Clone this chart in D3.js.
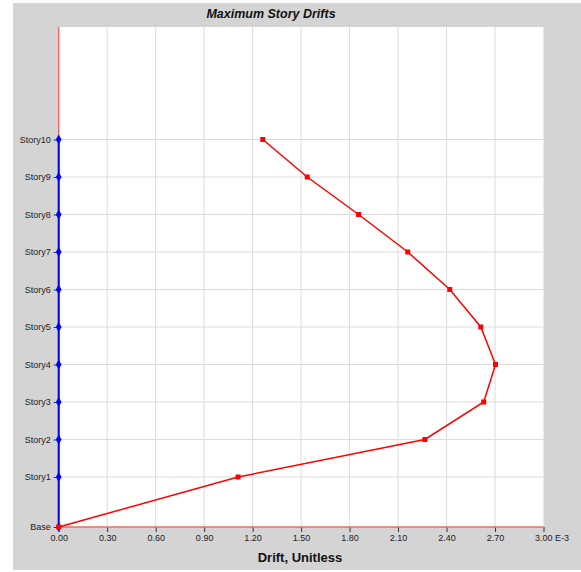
<!DOCTYPE html>
<html>
<head>
<meta charset="UTF-8">
<title>Maximum Story Drifts</title>
<style>
  body { margin: 0; background: #fff; }
  text { font-family: "Liberation Sans", Arial, sans-serif; }
</style>
</head>
<body>
<script src="https://d3js.org/d3.v7.min.js"></script>
<svg width="581" height="572"></svg>
<script>
    // story names and elevations (m), first story is taller
    let stories = ['Base', 'Story1', 'Story2', 'Story3', 'Story4', 'Story5',
                   'Story6', 'Story7', 'Story8', 'Story9', 'Story10'];
    let elevations = [0, 4, 7, 10, 13, 16, 19, 22, 25, 28, 31];

    // drift values (x 1E-3)
    let drift_x = [0, 1.11, 2.266, 2.63, 2.703, 2.612, 2.42, 2.16, 1.856, 1.538, 1.263];
    let drift_y = [0, 0, 0, 0, 0, 0, 0, 0, 0, 0, 0];

    let x_ticks = [0, 0.3, 0.6, 0.9, 1.2, 1.5, 1.8, 2.1, 2.4, 2.7, 3.0];

    let svg = d3.select("svg");

    // grey panel
    svg.append("rect")
        .attr("x", 13).attr("y", 3)
        .attr("width", 568).attr("height", 567)
        .attr("fill", "#d4d4d4");

    let plot_l = 58.7, plot_r = 543.5, plot_t = 27, plot_b = 527;

    let x = d3.scaleLinear().domain([0, 3]).range([plot_l, plot_r]);
    let y = d3.scaleLinear().domain([0, 40]).range([plot_b, plot_t]);

    // plot area
    svg.append("rect")
        .attr("x", plot_l).attr("y", plot_t)
        .attr("width", plot_r - plot_l).attr("height", plot_b - plot_t)
        .attr("fill", "#fff");

    // grid
    let grid = svg.append("g").attr("stroke", "#dcdcdc").attr("stroke-width", 1);
    grid.selectAll("line.v")
        .data(x_ticks.slice(1, -1)).enter()
        .append("line")
        .attr("x1", d => x(d)).attr("x2", d => x(d))
        .attr("y1", plot_t).attr("y2", plot_b);
    grid.selectAll("line.h")
        .data(elevations.slice(1)).enter()
        .append("line")
        .attr("x1", plot_l).attr("x2", plot_r)
        .attr("y1", d => y(d)).attr("y2", d => y(d));

    // axes
    let x_axis = d3.axisBottom(x)
        .tickValues(x_ticks)
        .tickSize(5)
        .tickPadding(3)
        .tickFormat(d => d.toFixed(2));
    let gx = svg.append("g")
        .attr("transform", "translate(0," + plot_b + ")")
        .call(x_axis);
    gx.select(".domain").remove();
    gx.selectAll("line").attr("stroke", "#333");
    gx.selectAll("text")
        .attr("fill", "#222")
        .style("font-size", "9px");
    // last label carries the exponent
    gx.selectAll(".tick").filter(d => d === 3).select("text")
        .attr("text-anchor", "start")
        .attr("x", -9)
        .text("3.00 E-3");

    let y_axis = d3.axisLeft(y)
        .tickValues(elevations)
        .tickSize(5)
        .tickPadding(3)
        .tickFormat((d, i) => stories[i]);
    let gy = svg.append("g")
        .attr("transform", "translate(" + plot_l + ",0)")
        .call(y_axis);
    gy.select(".domain").remove();
    gy.selectAll("line").attr("stroke", "#333");
    gy.selectAll("text")
        .attr("fill", "#222")
        .style("font-size", "9px");

    // red axis lines
    svg.append("line")
        .attr("x1", plot_l).attr("x2", plot_l)
        .attr("y1", plot_t).attr("y2", plot_b)
        .attr("stroke", "#f06a6a").attr("stroke-width", 1.5);
    svg.append("line")
        .attr("x1", plot_l).attr("x2", plot_r)
        .attr("y1", plot_b).attr("y2", plot_b)
        .attr("stroke", "#f06a6a").attr("stroke-width", 1.5);

    let line_y = d3.line()
        .x((d, i) => x(drift_y[i]))
        .y((d, i) => y(elevations[i]));
    let line_x = d3.line()
        .x((d, i) => x(drift_x[i]))
        .y((d, i) => y(elevations[i]));

    // blue series
    svg.append("path")
        .datum(drift_y)
        .attr("d", line_y)
        .attr("fill", "none")
        .attr("stroke", "#0000ff")
        .attr("stroke-width", 2);
    svg.append("g").selectAll("path")
        .data(drift_y).enter()
        .append("path")
        .attr("transform", (d, i) => "translate(" + x(d) + "," + y(elevations[i]) + ")")
        .attr("d", d3.symbol(d3.symbolDiamond, 28))
        .attr("fill", "#0000ff");

    // red series
    svg.append("path")
        .datum(drift_x)
        .attr("d", line_x)
        .attr("fill", "none")
        .attr("stroke", "#ff0000")
        .attr("stroke-width", 1.5);
    svg.append("g").selectAll("rect")
        .data(drift_x).enter()
        .append("rect")
        .attr("x", (d, i) => x(d) - 2.5)
        .attr("y", (d, i) => y(elevations[i]) - 2.5)
        .attr("width", 5).attr("height", 5)
        .attr("fill", "#ff0000");

    // title and axis label
    svg.append("text")
        .attr("x", 271).attr("y", 18)
        .attr("text-anchor", "middle")
        .style("font-size", "12.5px")
        .style("font-weight", "bold")
        .style("font-style", "italic")
        .attr("fill", "#111")
        .text("Maximum Story Drifts");

    svg.append("text")
        .attr("x", 300).attr("y", 562)
        .attr("text-anchor", "middle")
        .style("font-size", "13px")
        .style("font-weight", "bold")
        .attr("fill", "#111")
        .text("Drift, Unitless");
</script>
</body>
</html>
